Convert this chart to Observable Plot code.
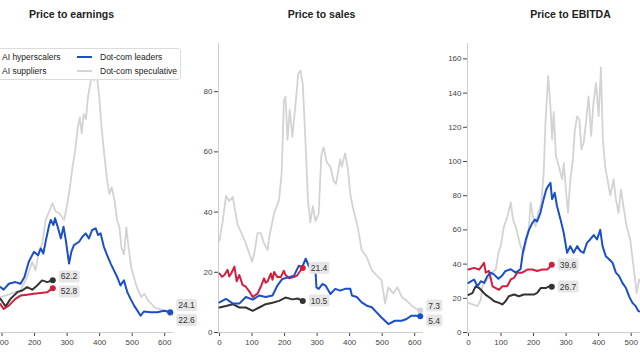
<!DOCTYPE html>
<html>
<head>
<meta charset="utf-8">
<script src="https://cdn.jsdelivr.net/npm/d3@7"></script>
<script src="https://cdn.jsdelivr.net/npm/@observablehq/plot@0.6"></script>
<style>
  body { margin: 0; background: #fff; }
  #wrap { position: relative; width: 640px; height: 360px; overflow: hidden; background: #fff;
          font-family: "Liberation Sans", Arial, sans-serif; }
  .panel { position: absolute; top: 0; }
  .title { position: absolute; top: 8px; width: 205px; text-align: center; font-weight: bold;
           font-size: 10.5px; line-height: 12px; color: #222; }
  #legend { position: absolute; left: -28px; top: 48px; width: 207px; height: 30px;
            border: 1px solid #dcdcdc; border-radius: 3px; background: rgba(255,255,255,0.92); }
  .sw { position: absolute; width: 15px; height: 2px; }
  .lt { position: absolute; font-size: 8.5px; line-height: 10px; color: #222; white-space: nowrap; }
</style>
</head>
<body>
<div id="wrap"></div>
<script>
// ---- data ----
const seriesNames = ["AI hyperscalers", "AI suppliers", "Dot-com leaders", "Dot-com speculative"];
const seriesColors = ["#333333", "#d11f3f", "#1a4fc8", "#d3d3d3"];
const panelTitles = ["Price to earnings", "Price to sales", "Price to EBITDA"];
const xTicks = [0, 100, 200, 300, 400, 500, 600];
const peTicks = [0, 50, 100, 150, 200, 250, 300];
const psTicks = [0, 20, 40, 60, 80];
const ebTicks = [0, 20, 40, 60, 80, 100, 120, 140, 160];

// Price to earnings
const peHyperscalers = [[0,30],[15,27],[30,31],[45,28],[60,33],[75,36],[95,40],[111,31],[126,40],[147,48],[162,50],[177,54],[193,51],[208,56],[223,62],[239,60],[256,62.2]];
const peSuppliers = [[0,28],[15,26],[30,29],[45,27],[60,30],[75,32],[95,34],[105,28],[121,32],[141,40],[157,44],[177,45],[198,46],[218,47],[239,48],[256,52.8]];
const peLeaders = [[0,48],[15,52],[30,47],[45,53],[60,50],[75,55],[95,54],[105,51],[121,58],[141,60],[157,58],[169,66],[182,84],[198,96],[211,92],[219,100],[227,94],[235,110],[245,128],[250,134],[258,128],[263,136],[271,126],[281,112],[289,126],[296,110],[306,82],[313,96],[321,104],[337,108],[347,114],[357,118],[367,112],[377,122],[388,124],[395,116],[403,118],[413,102],[423,92],[434,82],[444,74],[454,66],[464,56],[475,62],[485,48],[495,40],[506,32],[516,26],[526,20],[536,25],[557,24],[577,24],[598,26],[610,25],[617,24.1]];
const peSpeculative = [[0,38],[15,42],[30,36],[45,44],[60,40],[75,46],[95,42],[120,45],[140,48],[157,50],[177,66],[193,84],[203,74],[214,98],[224,106],[234,134],[245,144],[255,154],[265,144],[276,142],[291,134],[301,154],[309,174],[316,195],[325,217],[333,244],[339,256],[345,237],[351,260],[358,254],[364,280],[373,300],[378,325],[383,300],[388,320],[391,308],[399,280],[406,244],[414,213],[423,181],[430,165],[437,173],[446,157],[454,133],[461,125],[467,101],[475,93],[482,125],[489,101],[497,78],[508,62],[518,50],[528,42],[538,46],[549,38],[559,34],[569,30],[584,28],[600,26],[610,23],[617,22.6]];

// Price to sales
const psHyperscalers = [[0,8.3],[20,8.8],[41,9.4],[61,8.3],[81,8.3],[102,7.2],[122,8.3],[142,9.4],[163,9.9],[183,10.5],[203,11.6],[224,11],[240,11.3],[256,10.5]];
const psSuppliers = [[0,19.6],[8,18.5],[15,19.1],[25,20.8],[30,18.6],[36,19.6],[46,21.9],[53,17],[61,19.1],[71,15.8],[81,15.2],[92,13.6],[102,11.8],[117,12.9],[127,15.2],[137,18],[142,16.5],[148,17],[158,19.6],[163,17.5],[168,20.1],[178,18.4],[188,18.4],[198,20.5],[203,19.1],[214,18],[229,18.4],[239,19],[249,20.6],[256,21.4]];
const psLeaders = [[0,10],[20,11.2],[41,9.6],[61,9.6],[81,11.8],[102,10.9],[122,12.3],[142,11.8],[163,12.3],[178,15.6],[193,17.8],[214,18.4],[229,18.9],[244,22.2],[254,21.7],[265,24.5],[275,22],[287,20],[295,20.6],[298,15],[305,14.5],[316,16.1],[326,15.6],[341,12.8],[356,14.5],[371,13.9],[386,14.5],[402,14.5],[407,12.3],[422,11.8],[437,10],[453,8.9],[468,8.4],[483,6.7],[498,5],[519,2.8],[539,3.9],[560,3.9],[575,4.5],[590,5.6],[605,5.6],[617,5.4]];
const psSpeculative = [[0,30.5],[10,37],[20,45.4],[30,43.7],[41,45],[46,41.7],[56,35.6],[66,33.4],[81,29.6],[100,23.5],[107,26.3],[117,33],[127,33],[137,29.6],[148,27.4],[153,31.8],[168,39.6],[183,44],[191,52.8],[198,77],[203,78.3],[209,64],[216,74],[224,65],[234,76],[242,86],[249,87],[256,82.5],[264,64],[272,44],[279,36.6],[287,42],[295,37],[305,39.6],[313,59],[320,61.5],[330,56.5],[341,55],[351,50.4],[358,49.3],[371,57.5],[376,55],[386,59.5],[395,54],[402,46],[412,40.5],[425,35],[437,27.4],[453,25],[468,20.7],[483,19],[498,17.4],[509,9.6],[519,15],[534,13],[547,15],[560,11.8],[575,10.6],[590,9],[605,7.9],[617,7.3]];

// Price to EBITDA
const ebHyperscalers = [[0,22],[12,23],[22,27],[33,26],[43,24],[53,22],[68,20],[79,18.3],[94,17.3],[104,16.4],[114,18.3],[124,21.2],[140,22.2],[155,21.2],[170,22.2],[186,22.2],[201,22.2],[211,23.2],[222,26],[237,26],[248,27],[256,26.7]];
const ebSuppliers = [[0,36.8],[17,37.8],[33,36.8],[48,40.7],[53,35],[63,36],[74,27],[84,26],[94,25],[104,27],[119,27],[130,31],[140,32],[150,35],[165,35],[181,36.8],[196,36.8],[211,36],[227,36.8],[242,36.8],[256,39.6]];
const ebLeaders = [[0,29],[17,31],[28,27],[38,30],[48,29],[58,33],[68,35],[78,34],[92,31.4],[102,33],[114,36],[130,37],[145,35],[160,37],[167,46.6],[176,54],[186,60],[196,64],[204,66],[211,65],[221,70],[231,78],[239,83.6],[245,85.6],[252,87.5],[257,78],[265,81.7],[272,74],[283,66],[293,58],[303,46.6],[313,50.5],[323,46.6],[334,50.5],[344,47.6],[354,46.6],[364,52.4],[374,54.4],[385,57],[395,54.4],[405,60],[412,50.5],[422,44.6],[433,42.7],[443,40.7],[453,35],[463,33],[473,29],[484,26],[494,21],[504,17.3],[514,15.4],[522,12.5],[535,12],[555,11],[575,10.5],[595,11],[617,10.8]];
const ebSpeculative = [[0,17.3],[12,16.4],[28,15.4],[38,19.3],[43,27],[58,31],[73,35],[84,37],[92,46.6],[99,50.5],[109,62],[120,68],[130,76],[137,66],[145,62],[153,56],[160,50.5],[170,46.6],[178,54],[186,62],[191,76],[198,68],[206,62],[214,70],[224,76],[231,93],[237,124.6],[245,150],[252,132],[257,113],[262,129],[269,103],[278,97],[288,89.5],[293,99],[300,81.7],[306,70],[313,89.5],[321,101],[327,118.7],[334,126.5],[341,124.6],[347,107],[354,111],[361,122.6],[369,138],[377,115],[384,134],[392,146],[400,126.5],[407,155],[413,113],[420,97],[429,87.5],[436,80],[446,89.5],[453,78],[461,70],[469,83.6],[476,74],[486,62],[497,54.4],[507,38.8],[517,23],[524,31],[540,25],[560,20],[580,18],[600,16],[617,15]];

// ---- layout ----
const XMIN = -3, XMAX = 627;
const ML = 40, MR = 25, MT = 43, MB = 28, IW = 205, IH = 289;
const GAP = 15;
const panels = [
  {title: panelTitles[0], spine: -32, ymax: 344, yTicks: peTicks, yAxis: false, data: [peHyperscalers, peSuppliers, peLeaders, peSpeculative]},
  {title: panelTitles[1], spine: 218, ymax: 96, yTicks: psTicks, yAxis: true, data: [psHyperscalers, psSuppliers, psLeaders, psSpeculative]},
  {title: panelTitles[2], spine: 467, ymax: 169, yTicks: ebTicks, yAxis: true, data: [ebHyperscalers, ebSuppliers, ebLeaders, ebSpeculative]}
];
const drawOrder = [3, 0, 1, 2];
const wrap = document.getElementById("wrap");
const NS = "http://www.w3.org/2000/svg";

for (const p of panels) {
  const yPix = d3.scaleLinear([0, p.ymax], [MT + IH, MT]);
  const ends = p.data.map((arr, i) => {
    const last = arr[arr.length - 1];
    return {x: last[0], y: last[1], i, py: yPix(last[1]), ly: yPix(last[1])};
  });
  // simple vertical dodge of end labels sharing an end position
  for (const g of d3.group(ends, d => d.x).values()) {
    g.sort((a, b) => a.py - b.py);
    for (let it = 0; it < 20; it++) {
      for (let k = 1; k < g.length; k++) {
        const a = g[k - 1], b = g[k], diff = b.ly - a.ly;
        if (diff < GAP) { const m = (GAP - diff) / 2; a.ly -= m; b.ly += m; }
      }
    }
  }
  const marks = [
    Plot.ruleY([0], {stroke: "#cccccc", strokeWidth: 1}),
    Plot.ruleX([XMIN], {stroke: "#cccccc", strokeWidth: 1}),
    ...drawOrder.map(i => Plot.line(p.data[i], {
      x: d => d[0], y: d => d[1], stroke: seriesColors[i],
      strokeWidth: i === 3 ? 1.8 : 2, strokeLinejoin: "round"
    })),
    ...drawOrder.map(i => Plot.dot([ends[i]], {x: "x", y: "y", r: 3, fill: seriesColors[i]})),
    ...ends.map(e => Plot.text([e], {
      x: "x", y: "y", text: d => d.y.toFixed(1), dx: 8, dy: e.ly - e.py,
      textAnchor: "start", fill: "#333", fontSize: 8.5
    }))
  ];
  const svg = Plot.plot({
    width: ML + IW + MR, height: MT + IH + MB,
    marginLeft: ML, marginRight: MR, marginTop: MT, marginBottom: MB,
    x: {domain: [XMIN, XMAX], ticks: xTicks, tickSize: 4, tickPadding: 3, label: null},
    y: p.yAxis
      ? {domain: [0, p.ymax], ticks: p.yTicks, tickSize: 4, tickPadding: 2, label: null}
      : {domain: [0, p.ymax], axis: null},
    style: {background: "transparent", fontSize: "8px", fontFamily: "Liberation Sans, Arial, sans-serif",
            color: "#444", overflow: "visible", maxWidth: "none"},
    marks
  });
  const div = document.createElement("div");
  div.className = "panel";
  div.style.left = (p.spine - ML) + "px";
  div.style.width = (ML + IW + MR) + "px";
  div.appendChild(svg);
  wrap.appendChild(div);
  // label boxes behind end-value texts
  svg.querySelectorAll('g[aria-label="text"] text').forEach(t => {
    const b = t.getBBox();
    const r = document.createElementNS(NS, "rect");
    r.setAttribute("x", b.x - 2);
    r.setAttribute("y", b.y - 1);
    r.setAttribute("width", b.width + 4);
    r.setAttribute("height", b.height + 2);
    r.setAttribute("rx", 2);
    r.setAttribute("fill", "#e6e6e6");
    r.setAttribute("stroke", "none");
    const tr = t.getAttribute("transform");
    if (tr) r.setAttribute("transform", tr);
    t.parentNode.insertBefore(r, t);
  });
  const title = document.createElement("div");
  title.className = "title";
  title.style.left = (p.spine + 1) + "px";
  title.textContent = p.title;
  wrap.appendChild(title);
}

// legend
const legend = document.createElement("div");
legend.id = "legend";
const legendPos = [[6, 8], [6, 22], [104, 8], [104, 22]];
seriesNames.forEach((name, i) => {
  const sw = document.createElement("div");
  sw.className = "sw";
  sw.style.left = legendPos[i][0] + "px";
  sw.style.top = (legendPos[i][1] - 1) + "px";
  sw.style.background = seriesColors[i];
  legend.appendChild(sw);
  const lt = document.createElement("div");
  lt.className = "lt";
  lt.style.left = (legendPos[i][0] + 23) + "px";
  lt.style.top = (legendPos[i][1] - 5) + "px";
  lt.textContent = name;
  legend.appendChild(lt);
});
wrap.appendChild(legend);
</script>
</body>
</html>
